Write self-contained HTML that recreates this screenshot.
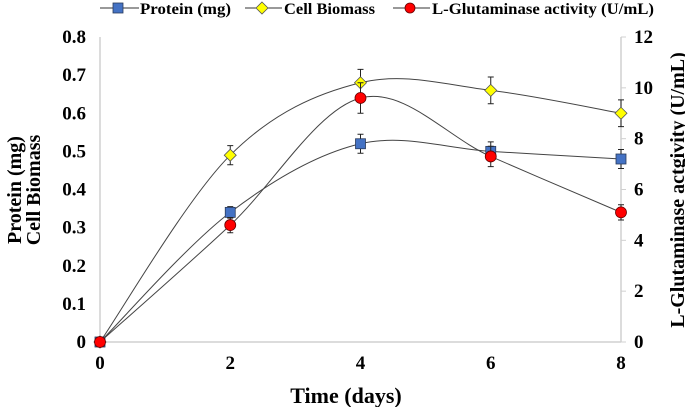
<!DOCTYPE html>
<html><head><meta charset="utf-8"><style>
html,body{margin:0;padding:0;background:#fff;}
svg{display:block;font-family:"Liberation Serif",serif;font-weight:bold;}
</style></head><body>
<svg id="chart" width="685" height="407" viewBox="0 0 685 407" xmlns="http://www.w3.org/2000/svg">
<g id="axes"></g>
<g id="series"></g>
<g>
  <g>
    <line x1="100" y1="8" x2="139" y2="8" stroke="#333" stroke-width="1"/>
    <rect x="113" y="3" width="10" height="10" fill="#4472C4" stroke="#2a3a5a" stroke-width="0.8"/>
    <text x="140" y="14" font-size="16" textLength="91" lengthAdjust="spacingAndGlyphs">Protein (mg)</text>
  </g>
  <g>
    <line x1="245" y1="8" x2="282" y2="8" stroke="#333" stroke-width="1"/>
    <polygon points="262,2 268,8 262,14 256,8" fill="#ffff00" stroke="#555" stroke-width="0.8"/>
    <text x="284" y="14" font-size="16" textLength="91" lengthAdjust="spacingAndGlyphs">Cell Biomass</text>
  </g>
  <g>
    <line x1="393" y1="8" x2="430" y2="8" stroke="#333" stroke-width="1"/>
    <circle cx="410" cy="8" r="5" fill="#ff0000" stroke="#600" stroke-width="0.8"/>
    <text x="432" y="14" font-size="16" textLength="222" lengthAdjust="spacingAndGlyphs">L-Glutaminase activity (U/mL)</text>
  </g>
</g>
<text x="346" y="403" font-size="22" text-anchor="middle">Time (days)</text>
<g transform="translate(0,190) rotate(-90)">
  <text x="0" y="21" font-size="20" text-anchor="middle">Protein (mg)</text>
  <text x="0" y="40" font-size="20" text-anchor="middle">Cell Biomass</text>
</g>
<text transform="translate(684,190) rotate(-90)" font-size="20" text-anchor="middle">L-Glutaminase actgivity (U/mL)</text>
</svg>
<script>
const days = [0, 2, 4, 6, 8];
const protein = [0, 0.34, 0.52, 0.50, 0.48];
const proteinErr = [0, 0.015, 0.025, 0.025, 0.025];
const biomass = [0, 0.49, 0.68, 0.66, 0.60];
const biomassErr = [0, 0.025, 0.035, 0.035, 0.035];
const glutaminase = [0, 4.6, 9.6, 7.3, 5.1];
const glutaminaseErr = [0, 0.3, 0.6, 0.4, 0.3];
const xTicks = [0, 2, 4, 6, 8];
const yLeftTicks = [0, 0.1, 0.2, 0.3, 0.4, 0.5, 0.6, 0.7, 0.8];
const yRightTicks = [0, 2, 4, 6, 8, 10, 12];

const NS = "http://www.w3.org/2000/svg";
const X0 = 100, X1 = 621, Y0 = 342, Y1 = 37;
const xS = v => X0 + (v - 0) / 8 * (X1 - X0);
const yL = v => Y0 - v / 0.8 * (Y0 - Y1);
const yR = v => Y0 - v / 12 * (Y0 - Y1);
function mk(tag, attrs, parent) {
  const e = document.createElementNS(NS, tag);
  for (const k in attrs) e.setAttribute(k, attrs[k]);
  parent.appendChild(e);
  return e;
}
const axes = document.getElementById('axes');
const ser = document.getElementById('series');
let e;
e = mk('line', {x1: X0, y1: Y1, x2: X0, y2: Y0, stroke: '#d0d0d0', 'stroke-width': 1.5}, axes);


e = mk('line', {x1: X1, y1: Y1, x2: X1, y2: Y0, stroke: '#d0d0d0', 'stroke-width': 1.5}, axes);


e = mk('line', {x1: X0, y1: Y0, x2: X1, y2: Y0, stroke: '#d0d0d0', 'stroke-width': 1.5}, axes);


xTicks.forEach(t => {
  const el = mk('text', {x: xS(t), y: Y0 + 27, 'font-size': 19, 'text-anchor': 'middle'}, axes);
  el.textContent = t;
  
  
});
yLeftTicks.forEach(t => {
  const el = mk('text', {x: 86, y: yL(t) + 6, 'font-size': 19, 'text-anchor': 'end'}, axes);
  el.textContent = t === 0 ? '0' : t.toFixed(1);
  
  
});
yRightTicks.forEach(t => {
  const el = mk('line', {x1: X1, y1: yR(t), x2: X1 + 5, y2: yR(t), stroke: '#d0d0d0', 'stroke-width': 1}, axes);
  
  
  const tx = mk('text', {x: 634, y: yR(t) + 6, 'font-size': 19, 'text-anchor': 'start'}, axes);
  tx.textContent = t;
  
  
});
function smooth(pts) {
  let d = `M${pts[0][0]},${pts[0][1]}`;
  for (let i = 0; i < pts.length - 1; i++) {
    const p0 = pts[i - 1] || pts[i], p1 = pts[i], p2 = pts[i + 1], p3 = pts[i + 2] || p2;
    const c1 = [p1[0] + (p2[0] - p0[0]) / 6, p1[1] + (p2[1] - p0[1]) / 6];
    const c2 = [p2[0] - (p3[0] - p1[0]) / 6, p2[1] - (p3[1] - p1[1]) / 6];
    d += ` C${c1[0]},${c1[1]} ${c2[0]},${c2[1]} ${p2[0]},${p2[1]}`;
  }
  return d;
}
function drawSeries(name, vals, errs, yf, marker) {
  const g = mk('g', {}, ser);
  
  
  const pts = days.map((d, i) => [xS(d), yf(vals[i])]);
  const p = mk('path', {d: smooth(pts), fill: 'none', stroke: '#444', 'stroke-width': 1}, g);
  
  
  days.forEach((d, i) => {
    if (errs[i] > 0) {
      const x = xS(d), ya = yf(vals[i] + errs[i]), yb = yf(vals[i] - errs[i]);
      const eb = mk('path', {d: `M${x},${ya}V${yb}M${x - 3},${ya}H${x + 3}M${x - 3},${yb}H${x + 3}`, stroke: '#222', 'stroke-width': 1, fill: 'none'}, g);
      
      
    }
  });
  days.forEach((d, i) => {
    const x = xS(d), y = yf(vals[i]);
    let m;
    if (marker === 'square') m = mk('rect', {x: x - 5, y: y - 5, width: 10, height: 10, fill: '#4472C4', stroke: '#2a3a5a', 'stroke-width': 0.8}, g);
    else if (marker === 'diamond') m = mk('polygon', {points: `${x},${y - 6} ${x + 6},${y} ${x},${y + 6} ${x - 6},${y}`, fill: '#ffff00', stroke: '#555', 'stroke-width': 0.8}, g);
    else m = mk('circle', {cx: x, cy: y, r: 5.5, fill: '#ff0000', stroke: '#600', 'stroke-width': 0.8}, g);
    
    
  });
}
drawSeries('biomass', biomass, biomassErr, yL, 'diamond');
drawSeries('protein', protein, proteinErr, yL, 'square');
drawSeries('glutaminase', glutaminase, glutaminaseErr, yR, 'circle');
</script>
</body></html>
